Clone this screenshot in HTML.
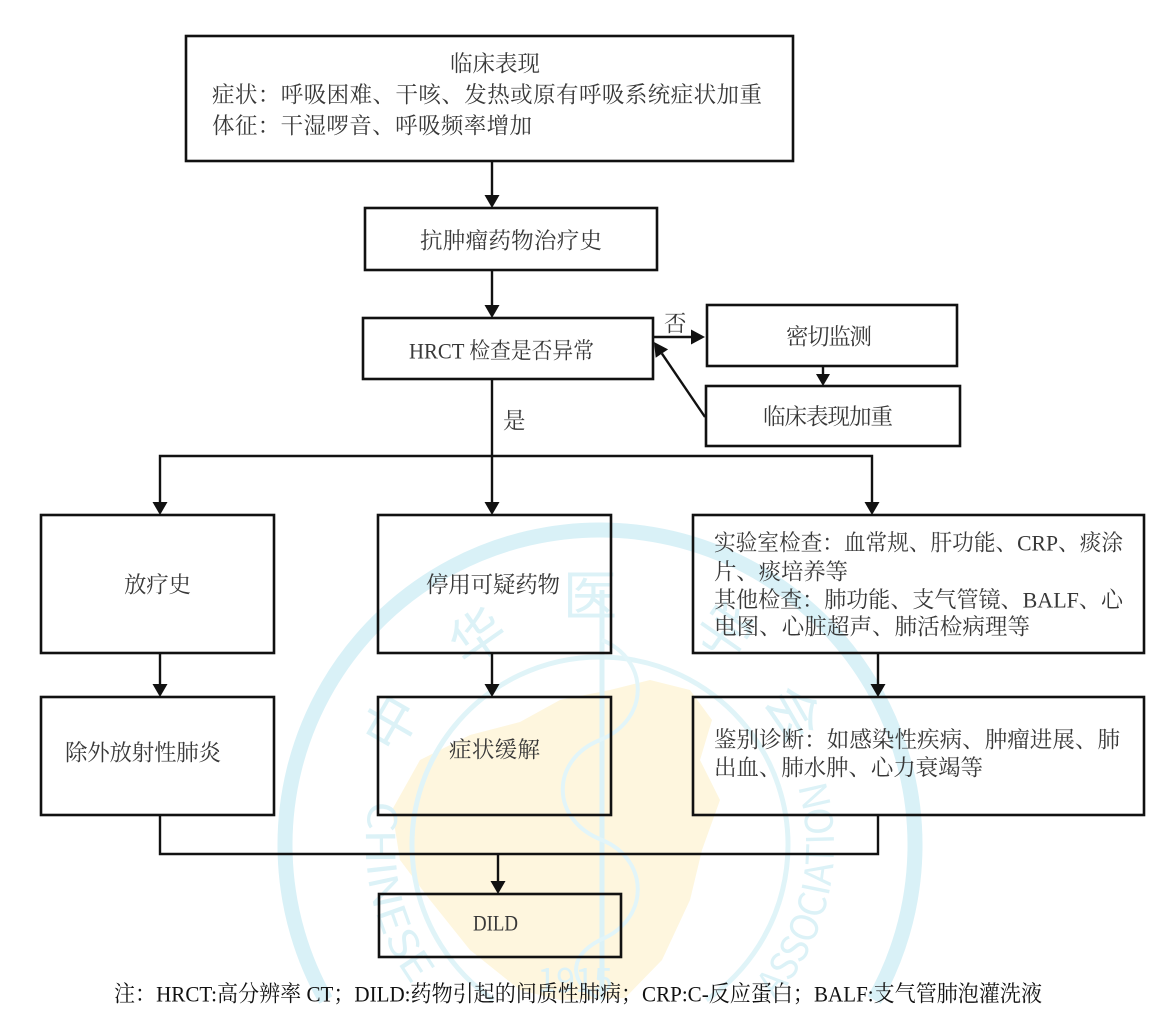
<!DOCTYPE html>
<html>
<head>
<meta charset="utf-8">
<style>
  html,body{margin:0;padding:0;background:#fff;width:1154px;height:1010px;overflow:hidden;}
  svg{display:block;overflow:hidden;}
  .t{font-family:"Liberation Serif","Noto Serif CJK SC",serif;fill:#383838;font-size:22.5px;dominant-baseline:central;}
  .wm{font-family:"Noto Sans CJK SC",sans-serif;fill:#dcf2f7;}
</style>
</head>
<body>
<svg width="1154" height="1010" viewBox="0 0 1154 1010" xmlns="http://www.w3.org/2000/svg">
  <rect x="0" y="0" width="1154" height="1010" fill="#ffffff"/>

  <!-- watermark -->
  <g>
    <polygon fill="#fef6de" points="420,760 470,735 520,722 560,700 610,690 650,680 690,690 712,720 700,760 720,800 702,850 690,900 662,960 625,998 560,1000 520,990 470,950 430,900 400,860 392,810"/>
    <path d="M 325.8 1000 A 315 315 0 1 1 874.2 1000" fill="none" stroke="#d9f1f7" stroke-width="15"/>
    <path d="M 493.6 1000 A 188 188 0 1 1 706.4 1000" fill="none" stroke="#e0f4f8" stroke-width="5"/>
    <line x1="602" y1="590" x2="602" y2="1000" stroke="#dcf2f7" stroke-width="5"/>
    <path d="M602 640 C 650 660, 650 720, 600 740 C 550 760, 550 820, 602 840 C 650 860, 650 920, 600 940 C 565 958, 572 985, 598 998" fill="none" stroke="#e2f5f9" stroke-width="4"/>
    <text class="wm" x="590" y="615" font-size="54" text-anchor="middle">医</text>
    <text class="wm" x="480" y="655" font-size="54" text-anchor="middle" transform="rotate(-35 480 640)">华</text>
    <text class="wm" x="395" y="740" font-size="54" text-anchor="middle" transform="rotate(-60 395 725)">中</text>
    <text class="wm" x="722" y="650" font-size="54" text-anchor="middle" transform="rotate(35 722 635)">学</text>
    <text class="wm" x="790" y="730" font-size="54" text-anchor="middle" transform="rotate(60 790 715)">会</text>
    <defs>
      <path id="arcL" d="M 370.4 800 A 234 234 0 0 0 416.3 990"/>
      <path id="arcR" d="M 775.3 1000 A 234 234 0 0 0 824.8 780"/>
    </defs>
    <text class="wm" font-size="40" font-family="Liberation Sans, sans-serif"><textPath href="#arcL" startOffset="0" textLength="195" lengthAdjust="spacingAndGlyphs">CHINESE</textPath></text>
    <text class="wm" font-size="38" font-family="Liberation Sans, sans-serif"><textPath href="#arcR" startOffset="0" textLength="235" lengthAdjust="spacingAndGlyphs">ASSOCIATION</textPath></text>
    <text class="wm" x="575" y="992" font-size="34" text-anchor="middle" font-family="Liberation Sans, sans-serif">1915</text>
  </g>

  <!-- boxes -->
  <g fill="none" stroke="#111" stroke-width="2.6">
    <rect x="186" y="36" width="607" height="125"/>
    <rect x="365" y="208" width="292" height="62"/>
    <rect x="363" y="318" width="290" height="61"/>
    <rect x="707" y="305" width="250" height="61"/>
    <rect x="706" y="386" width="254" height="60"/>
    <rect x="41" y="515" width="233" height="138"/>
    <rect x="378" y="515" width="233" height="138"/>
    <rect x="693" y="515" width="451" height="138"/>
    <rect x="41" y="697" width="233" height="118"/>
    <rect x="378" y="697" width="233" height="118"/>
    <rect x="693" y="697" width="451" height="118"/>
    <rect x="379" y="894" width="242" height="63"/>
  </g>

  <!-- connectors -->
  <g fill="none" stroke="#111" stroke-width="2.4">
    <line x1="492" y1="161" x2="492" y2="196"/>
    <line x1="492" y1="270" x2="492" y2="306"/>
    <line x1="492" y1="379" x2="492" y2="503"/>
    <line x1="653" y1="337" x2="692" y2="337"/>
    <line x1="823" y1="366" x2="823" y2="375"/>
    <line x1="705" y1="417" x2="661.9" y2="353.6"/>
    <polyline points="160,503 160,456 872,456 872,503"/>
    <line x1="160" y1="653" x2="160" y2="685"/>
    <line x1="492" y1="653" x2="492" y2="685"/>
    <line x1="878" y1="653" x2="878" y2="685"/>
    <polyline points="160,815 160,854 878,854 878,815"/>
    <line x1="498" y1="854" x2="498" y2="882"/>
  </g>
  <g fill="#111">
    <polygon points="484.5,195 499.5,195 492,208"/>
    <polygon points="484.5,305 499.5,305 492,318"/>
    <polygon points="484.5,502 499.5,502 492,515"/>
    <polygon points="691,329.5 691,344.5 705,337"/>
    <polygon points="816,374 830,374 823,386"/>
    <polygon points="654,342 668.1,349.4 655.7,357.8"/>
    <polygon points="152.5,502 167.5,502 160,515"/>
    <polygon points="864.5,502 879.5,502 872,515"/>
    <polygon points="152.5,684 167.5,684 160,697"/>
    <polygon points="484.5,684 499.5,684 492,697"/>
    <polygon points="870.5,684 885.5,684 878,697"/>
    <polygon points="490.5,881 505.5,881 498,894"/>
  </g>

  <!-- texts -->
  <text class="t" x="495" y="64" text-anchor="middle">临床表现</text>
  <text class="t" x="212" y="95" textLength="550" lengthAdjust="spacing">症状：呼吸困难、干咳、发热或原有呼吸系统症状加重</text>
  <text class="t" x="212" y="126" textLength="320" lengthAdjust="spacing">体征：干湿啰音、呼吸频率增加</text>
  <text class="t" x="420" y="241" textLength="182" lengthAdjust="spacing">抗肿瘤药物治疗史</text>
  <text class="t" x="409" y="351" textLength="185" lengthAdjust="spacingAndGlyphs">HRCT 检查是否异常</text>
  <text class="t" x="664" y="324" font-size="20">否</text>
  <text class="t" x="786" y="337" textLength="86" lengthAdjust="spacing">密切监测</text>
  <text class="t" x="763" y="417" textLength="130" lengthAdjust="spacing">临床表现加重</text>
  <text class="t" x="503" y="421" font-size="20">是</text>

  <text class="t" x="124" y="585" textLength="67" lengthAdjust="spacing">放疗史</text>
  <text class="t" x="426" y="585" textLength="134" lengthAdjust="spacing">停用可疑药物</text>
  <text class="t" x="714" y="543" textLength="409" lengthAdjust="spacingAndGlyphs">实验室检查：血常规、肝功能、CRP、痰涂</text>
  <text class="t" x="714" y="572" textLength="134" lengthAdjust="spacing">片、痰培养等</text>
  <text class="t" x="714" y="600" textLength="409" lengthAdjust="spacingAndGlyphs">其他检查：肺功能、支气管镜、BALF、心</text>
  <text class="t" x="714" y="627" textLength="316" lengthAdjust="spacing">电图、心脏超声、肺活检病理等</text>

  <text class="t" x="65" y="753" textLength="156" lengthAdjust="spacing">除外放射性肺炎</text>
  <text class="t" x="449" y="750" textLength="91" lengthAdjust="spacing">症状缓解</text>
  <text class="t" x="714" y="740" textLength="406" lengthAdjust="spacing">鉴别诊断：如感染性疾病、肿瘤进展、肺</text>
  <text class="t" x="714" y="768" textLength="269" lengthAdjust="spacing">出血、肺水肿、心力衰竭等</text>

  <text class="t" x="473" y="923" font-size="23" textLength="45" lengthAdjust="spacingAndGlyphs">DILD</text>

  <text class="t" x="114" y="994" font-size="20.5" style="fill:#111" textLength="928" lengthAdjust="spacingAndGlyphs">注：HRCT:高分辨率 CT；DILD:药物引起的间质性肺病；CRP:C-反应蛋白；BALF:支气管肺泡灌洗液</text>
</svg>
</body>
</html>
